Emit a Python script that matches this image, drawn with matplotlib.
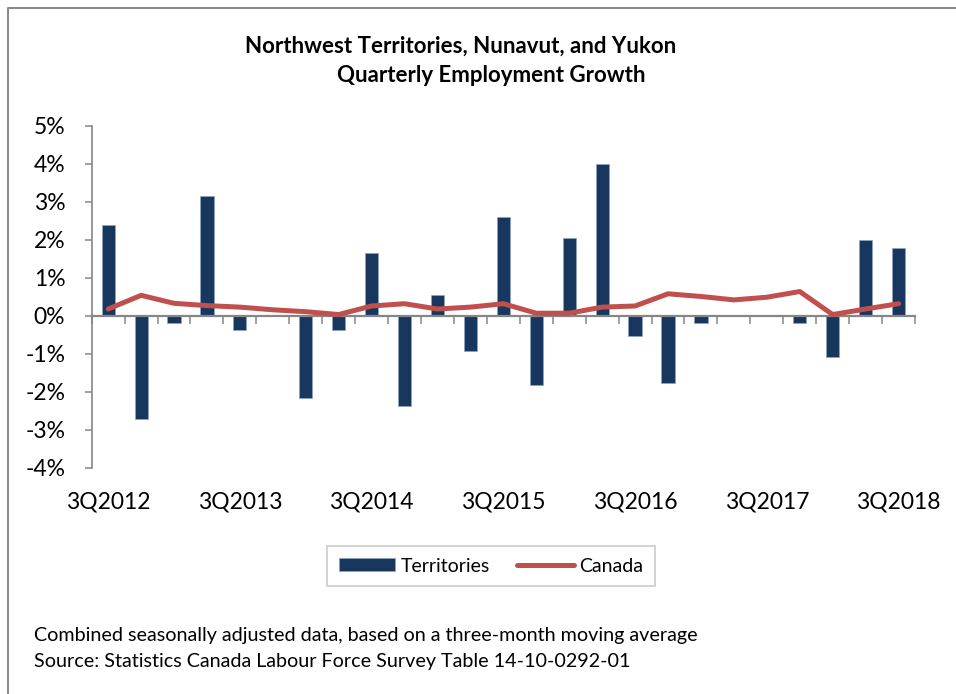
import numpy as np
import matplotlib
matplotlib.use('Agg')
import matplotlib.pyplot as plt
from matplotlib.lines import Line2D

plt.rcParams['font.family'] = ['Lato', 'DejaVu Sans']

# quarterly employment growth, 3Q2012 .. 3Q2018 (%)
quarters = ['3Q2012', '4Q2012', '1Q2013', '2Q2013', '3Q2013', '4Q2013', '1Q2014', '2Q2014',
            '3Q2014', '4Q2014', '1Q2015', '2Q2015', '3Q2015', '4Q2015', '1Q2016', '2Q2016',
            '3Q2016', '4Q2016', '1Q2017', '2Q2017', '3Q2017', '4Q2017', '1Q2018', '2Q2018',
            '3Q2018']
territories = [2.38, -2.71, -0.19, 3.15, -0.37, 0.0, -2.16, -0.37,
               1.65, -2.37, 0.55, -0.93, 2.61, -1.83, 2.04, 4.0,
               -0.53, -1.77, -0.18, 0.0, 0.0, -0.18, -1.09, 2.0,
               1.78]
canada = [0.18, 0.54, 0.33, 0.27, 0.23, 0.16, 0.11, 0.035,
          0.26, 0.32, 0.18, 0.23, 0.32, 0.07, 0.07, 0.23,
          0.26, 0.58, 0.51, 0.42, 0.49, 0.64, 0.035, 0.18,
          0.32]
yticks = [-4, -3, -2, -1, 0, 1, 2, 3, 4, 5]

BAR_COLOR = '#17375E'
LINE_COLOR = '#C0504D'
AXIS_GRAY = '#868686'

fig = plt.figure(figsize=(9.56, 6.94), dpi=100)

# outer chart frame (only top and left edges show)
fig.add_artist(Line2D([8 / 956, 8 / 956, 1.0], [0.0, 1 - 8 / 694, 1 - 8 / 694],
                      transform=fig.transFigure, color='#8C8C8C', lw=1.5))

ax = fig.add_axes([91.7 / 956, 1 - 468 / 694, (915 - 91.7) / 956, (468 - 125.7) / 694])
x = np.arange(len(quarters))

bars = ax.bar(x, territories, width=0.4, color=BAR_COLOR, edgecolor='#8EA5C0', linewidth=0.5,
              label='Territories', zorder=2)
line, = ax.plot(x, canada, color=LINE_COLOR, lw=3.6, solid_capstyle='round',
                solid_joinstyle='round', label='Canada', zorder=3)

ax.set_xlim(-0.5, len(quarters) - 0.5)
ax.set_ylim(-4, 5)
ax.set_yticks(yticks)
ax.set_yticklabels(['%d%%' % v for v in yticks], fontsize=16.5)
ax.tick_params(axis='y', length=5, width=1.1, color=AXIS_GRAY, pad=14)

for s in ['top', 'right']:
    ax.spines[s].set_visible(False)
ax.spines['left'].set_color(AXIS_GRAY)
ax.spines['left'].set_linewidth(1.2)

# category axis sits on the zero line, ticks at the category boundaries
ax.spines['bottom'].set_position(('data', 0))
ax.spines['bottom'].set_color(AXIS_GRAY)
ax.spines['bottom'].set_linewidth(1.6)
ax.set_xticks(np.arange(-0.5, len(quarters), 1))
ax.set_xticklabels([])
ax.tick_params(axis='x', length=6, width=1.1, color=AXIS_GRAY)

# quarter labels at the bottom of the plot area
sec = ax.secondary_xaxis('bottom')
sec.spines['bottom'].set_visible(False)
sec.set_xticks(x[::4])
sec.set_xticklabels(quarters[::4], fontsize=16.5)
sec.tick_params(length=0, pad=17)

fig.text(461 / 956, 1 - 46 / 694, 'Northwest Territories, Nunavut, and Yukon',
         ha='center', va='center', fontsize=16, fontweight='bold')
fig.text(491 / 956, 1 - 76 / 694, 'Quarterly Employment Growth',
         ha='center', va='center', fontsize=16, fontweight='bold')

leg = fig.legend([bars, line], ['Territories', 'Canada'], loc='center',
                 bbox_to_anchor=(491 / 956, 1 - 566 / 694), ncol=2,
                 fontsize=14, frameon=True, fancybox=False, edgecolor='#BFBFBF',
                 handlelength=2.9, handleheight=0.6, handletextpad=0.3, columnspacing=1.4,
                 borderpad=0.6, borderaxespad=0)
leg.get_frame().set_linewidth(1.2)

fig.text(34 / 956, 1 - 636 / 694,
         'Combined seasonally adjusted data, based on a three-month moving average',
         ha='left', va='center', fontsize=14.2)
fig.text(34 / 956, 1 - 662 / 694,
         'Source: Statistics Canada Labour Force Survey Table 14-10-0292-01',
         ha='left', va='center', fontsize=14.2)

fig.savefig('out.png', dpi=100)
